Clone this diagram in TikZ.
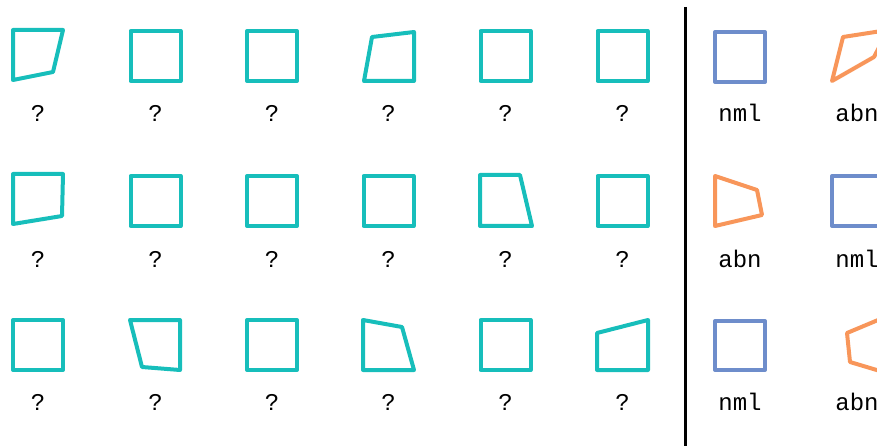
\documentclass[tikz,border=0pt]{standalone}
\usepackage{fontspec}
\setmonofont{Liberation Mono}
\definecolor{teal1}{HTML}{17BEBB}
\definecolor{blue1}{HTML}{6E8DCB}
\definecolor{orange1}{HTML}{F8965A}
\begin{document}
\begin{tikzpicture}[x=1pt,y=-1pt,
  quad/.style={draw=teal1,line width=4pt,line join=round},
  nml/.style={draw=blue1,line width=4pt,line join=round},
  abn/.style={draw=orange1,line width=4pt,line join=round},
  lab/.style={font=\fontsize{24}{24}\selectfont\ttfamily,anchor=base,inner sep=0pt}]
\useasboundingbox (0,0) rectangle (877,446);
\clip (0,0) rectangle (877,446);
% row 1
\draw[quad] (13,30) -- (63,30) -- (53,72) -- (13,80) -- cycle;
\draw[quad] (130.5,31) rectangle (180.5,81);
\draw[quad] (247,31) rectangle (297,81);
\draw[quad] (372,37) -- (414,32) -- (414,81) -- (364,81) -- cycle;
\draw[quad] (480.5,31) rectangle (530.5,81);
\draw[quad] (597.5,31) rectangle (647.5,81);
\draw[nml] (715,32) rectangle (765,82);
\draw[abn] (843,37) -- (888,30) -- (874,57) -- (832,81) -- cycle;
% row 2
\draw[quad] (13,174) -- (63,174) -- (62,216) -- (13,224) -- cycle;
\draw[quad] (130.5,176) rectangle (180.5,226);
\draw[quad] (247,176) rectangle (297,226);
\draw[quad] (363.5,176) rectangle (413.5,226);
\draw[quad] (480,175) -- (520,175) -- (532,226) -- (480,226) -- cycle;
\draw[quad] (597.5,176) rectangle (647.5,226);
\draw[abn] (715,176) -- (757,190) -- (762,215) -- (715,226) -- cycle;
\draw[nml] (832,176) rectangle (882,226);
% row 3
\draw[quad] (13,320) rectangle (63,370);
\draw[quad] (130,320) -- (180,320) -- (180,370) -- (142,367) -- cycle;
\draw[quad] (247,320) rectangle (297,370);
\draw[quad] (363,320) -- (402,327) -- (414,370) -- (363,370) -- cycle;
\draw[quad] (480.5,320) rectangle (530.5,370);
\draw[quad] (597,333) -- (648,320) -- (648,370) -- (597,370) -- cycle;
\draw[nml] (715,321) rectangle (765,370);
\draw[abn] (890,315) -- (847,333) -- (850,362) -- (890,374);
% divider
\draw[line width=3pt] (685,7) -- (685,446);
% labels
\foreach \r/\b in {1/122,2/267,3/410}{
  \foreach \c/\x in {1/38,2/155.5,3/272,4/388.5,5/505.5,6/622.5}{
    \node[lab] (q\r\c) at (\x,\b) {?};
  }
}
\node[lab] (l17) at (740,122) {nml};
\node[lab] (l18) at (857,122) {abn};
\node[lab] (l27) at (740,267) {abn};
\node[lab] (l28) at (857,267) {nml};
\node[lab] (l37) at (740,410) {nml};
\node[lab] (l38) at (857,410) {abn};
\end{tikzpicture}
\end{document}
